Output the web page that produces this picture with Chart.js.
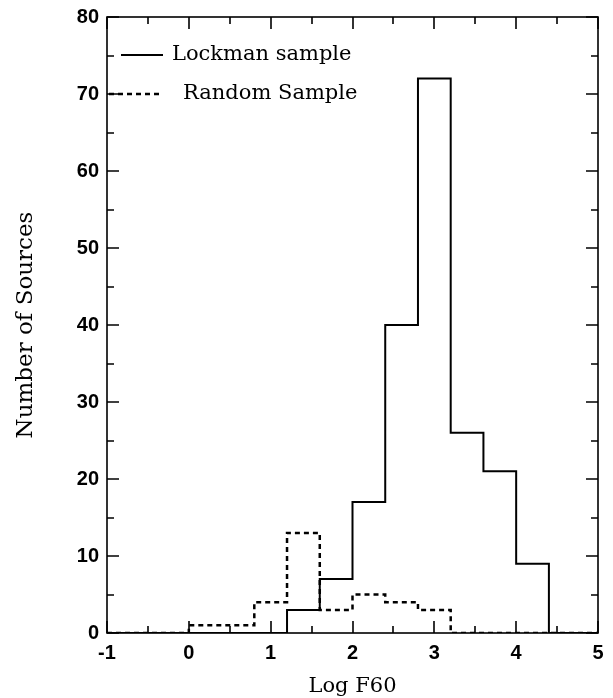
<!DOCTYPE html>
<html>
<head>
<meta charset="utf-8">
<title>Log F60 histogram</title>
<script src="https://cdn.jsdelivr.net/npm/chart.js@4.4.1/dist/chart.umd.min.js"></script>
<style>
  html, body { margin: 0; padding: 0; background: #fff; }
</style>
</head>
<body>
<canvas id="hist" width="613" height="698"></canvas>
<script>
// Left edges of the 0.4 wide bins in Log F60
const binEdges = [0.0, 0.4, 0.8, 1.2, 1.6, 2.0, 2.4, 2.8, 3.2, 3.6, 4.0];
const binWidth = 0.4;
const lockmanCounts = [0, 0, 0, 3, 7, 17, 40, 72, 26, 21, 9];
const randomCounts  = [1, 1, 4, 13, 3, 5, 4, 3, 0, 0, 0];
const seriesNames = ['Lockman sample', 'Random Sample'];

const xRange = [-1, 5];
const yRange = [0, 80];
const xTicks = [-1, 0, 1, 2, 3, 4, 5];
const yTicks = [0, 10, 20, 30, 40, 50, 60, 70, 80];

const serif = 'DejaVu Serif';
const sans = 'Liberation Sans';

// Turn bin counts into step points (value holds until the next edge)
function stepPoints(counts) {
    var pts = [{ x: xRange[0], y: 0 }];
    binEdges.forEach(function(e, i) { pts.push({ x: e, y: counts[i] }); });
    pts.push({ x: binEdges[binEdges.length - 1] + binWidth, y: 0 });
    pts.push({ x: xRange[1], y: 0 });
    return pts;
}

// Box around the plot, inward ticks on all four sides and the legend
const frameTicks = {
    id: 'frameTicks',
    afterDatasetsDraw(chart) {
        const ctx = chart.ctx;
        const a = chart.chartArea;
        const xs = chart.scales.x, ys = chart.scales.y;
        ctx.save();
        ctx.strokeStyle = '#000';
        ctx.lineWidth = 1.6;
        ctx.strokeRect(a.left, a.top, a.right - a.left, a.bottom - a.top);

        ctx.beginPath();
        for (let v = xRange[0]; v <= xRange[1]; v += 0.5) {
            const px = Math.round(xs.getPixelForValue(v));
            const len = Number.isInteger(v) ? 12 : 7;
            ctx.moveTo(px, a.bottom); ctx.lineTo(px, a.bottom - len);
            ctx.moveTo(px, a.top); ctx.lineTo(px, a.top + len);
        }
        for (let v = yRange[0]; v <= yRange[1]; v += 5) {
            const py = Math.round(ys.getPixelForValue(v));
            const len = v % 10 === 0 ? 12 : 7;
            ctx.moveTo(a.left, py); ctx.lineTo(a.left + len, py);
            ctx.moveTo(a.right, py); ctx.lineTo(a.right - len, py);
        }
        ctx.stroke();

        // legend rows
        const rows = [
            { ds: chart.data.datasets[0], y: a.top + 38, x0: a.left + 14, x1: a.left + 56, tx: a.left + 65 },
            { ds: chart.data.datasets[1], y: a.top + 77, x0: a.left + 2, x1: a.left + 55, tx: a.left + 76 }
        ];
        ctx.font = '21px "' + serif + '"';
        ctx.fillStyle = '#000';
        ctx.textBaseline = 'middle';
        rows.forEach(function(r) {
            ctx.beginPath();
            ctx.lineWidth = r.ds.borderWidth;
            ctx.setLineDash(r.ds.borderDash || []);
            ctx.moveTo(r.x0, r.y); ctx.lineTo(r.x1, r.y);
            ctx.stroke();
            ctx.setLineDash([]);
            ctx.fillText(r.ds.label, r.tx, r.y);
        });
        ctx.restore();
    }
};

new Chart(document.getElementById('hist'), {
    type: 'line',
    data: {
        datasets: [{
            label: seriesNames[0],
            data: stepPoints(lockmanCounts),
            stepped: true,
            borderColor: '#000',
            borderWidth: 2,
            pointRadius: 0,
            fill: false
        }, {
            label: seriesNames[1],
            data: stepPoints(randomCounts),
            stepped: true,
            borderColor: '#000',
            borderWidth: 2.5,
            borderDash: [5, 4],
            pointRadius: 0,
            fill: false
        }]
    },
    options: {
        responsive: false,
        animation: false,
        devicePixelRatio: 1,
        layout: { padding: { top: 17, right: 15, bottom: 0, left: 0 } },
        plugins: {
            legend: { display: false },
            tooltip: { enabled: false }
        },
        scales: {
            x: {
                type: 'linear',
                min: xRange[0],
                max: xRange[1],
                afterBuildTicks: function(s) { s.ticks = xTicks.map(v => ({ value: v })); },
                afterFit: function(s) { s.height = 65; },
                grid: { display: false },
                border: { display: false },
                ticks: {
                    color: '#000',
                    padding: 0,
                    autoSkip: false,
                    maxRotation: 0,
                    font: { family: sans, size: 20, weight: 'bold' }
                },
                title: {
                    display: true,
                    text: 'Log F60',
                    color: '#000',
                    padding: { top: 0, bottom: -1 },
                    font: { family: serif, size: 21 }
                }
            },
            y: {
                min: yRange[0],
                max: yRange[1],
                afterBuildTicks: function(s) { s.ticks = yTicks.map(v => ({ value: v })); },
                afterFit: function(s) { s.width = 107; },
                grid: { display: false },
                border: { display: false },
                ticks: {
                    color: '#000',
                    padding: 0,
                    font: { family: sans, size: 20, weight: 'bold' }
                },
                title: {
                    display: true,
                    text: 'Number of Sources',
                    color: '#000',
                    padding: { top: 12, bottom: 0 },
                    font: { family: serif, size: 23 }
                }
            }
        }
    },
    plugins: [frameTicks]
});
</script>
</body>
</html>
